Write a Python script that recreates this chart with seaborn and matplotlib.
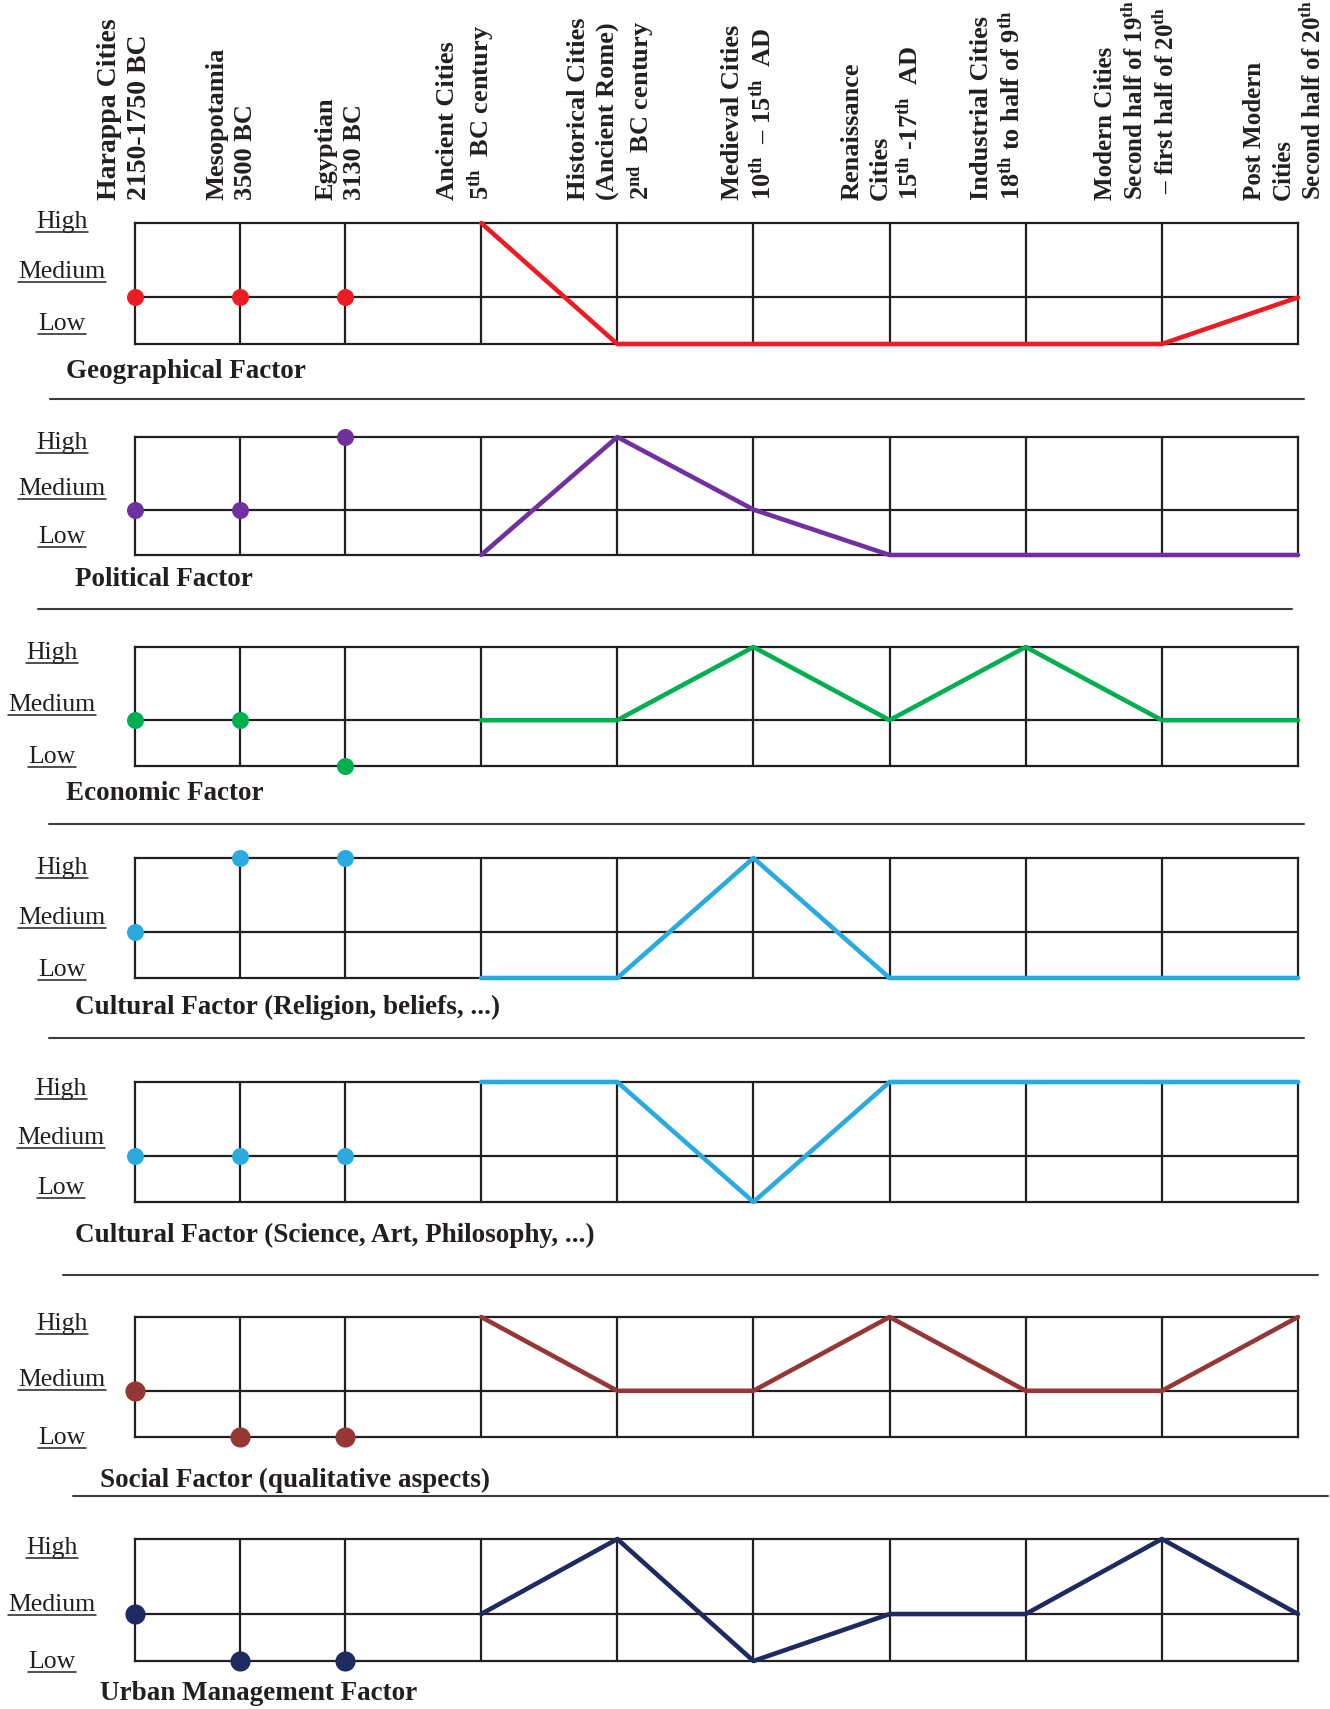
import numpy as np
import pandas as pd
import matplotlib
matplotlib.use("Agg")
import matplotlib.pyplot as plt
import seaborn as sns
from matplotlib.lines import Line2D

# ---- data ----
periods = [
    "Harappa Cities\n2150-1750 BC",
    "Mesopotamia\n3500 BC",
    "Egyptian\n3130 BC",
    "Ancient Cities\n5$^{\\mathrm{th}}$  BC century",
    "Historical Cities\n(Ancient Rome)\n2$^{\\mathrm{nd}}$  BC century",
    "Medieval Cities\n10$^{\\mathrm{th}}$  \u2013 15$^{\\mathrm{th}}$  AD",
    "Renaissance\nCities\n15$^{\\mathrm{th}}$ -17$^{\\mathrm{th}}$  AD",
    "Industrial Cities\n18$^{\\mathrm{th}}$ to half of 9$^{\\mathrm{th}}$",
    "Modern Cities\nSecond half of 19$^{\\mathrm{th}}$\n \u2013 first half of 20$^{\\mathrm{th}}$",
    "Post Modern\nCities\nSecond half of 20$^{\\mathrm{th}}$",
]
levels = ["Low", "Medium", "High"]

factor_names = [
    "Geographical Factor",
    "Political Factor",
    "Economic Factor",
    "Cultural Factor (Religion, beliefs, ...)",
    "Cultural Factor (Science, Art, Philosophy, ...)",
    "Social Factor (qualitative aspects)",
    "Urban Management Factor",
]

geographical = ["Medium", "Medium", "Medium", "High", "Low", "Low", "Low", "Low", "Low", "Medium"]
political = ["Medium", "Medium", "High", "Low", "High", "Medium", "Low", "Low", "Low", "Low"]
economic = ["Medium", "Medium", "Low", "Medium", "Medium", "High", "Medium", "High", "Medium", "Medium"]
cultural_religion = ["Medium", "High", "High", "Low", "Low", "High", "Low", "Low", "Low", "Low"]
cultural_science = ["Medium", "Medium", "Medium", "High", "High", "Low", "High", "High", "High", "High"]
social = ["Medium", "Low", "Low", "High", "Medium", "Medium", "High", "Medium", "Medium", "High"]
urban = ["Medium", "Low", "Low", "Medium", "High", "Low", "Medium", "Medium", "High", "Medium"]

factor_values = [geographical, political, economic, cultural_religion,
                 cultural_science, social, urban]
factor_colors = ["#ED1C24", "#7030A0", "#00B050", "#29ABE2", "#29ABE2", "#953735", "#1F2A60"]

# ---- layout (pixels of the 1330x1709 canvas) ----
W, H = 1330, 1709
BOX_LEFT, BOX_RIGHT = 135, 1298
panel_top = [223, 437, 647, 858, 1082, 1317, 1539]
panel_bottom = [344, 555, 766, 978, 1202, 1437, 1661]
label_x = [62, 62, 52, 62, 61, 62, 52]
label_base = [(228, 278, 330), (449, 495, 543), (659, 711, 763), (874, 924, 976),
              (1095, 1144, 1194), (1330, 1386, 1444), (1554, 1611, 1668)]
title_pos = [(66, 372), (75, 580), (66, 793), (75, 1007), (75, 1235), (100, 1480), (100, 1693)]
separators = [(399, 50, 1304), (609, 38, 1292), (824, 49, 1304), (1038, 49, 1304),
              (1275, 63, 1318), (1496, 73, 1328)]
header_right = [152, 257, 366, 496, 656, 776, 923, 1025, 1178, 1325]
header_size = [20, 19, 19, 19, 19, 19, 19, 19, 18, 18]
dot_size = [150, 150, 150, 150, 150, 210, 210]

TXT = "#231F20"
GRID = "#231F20"

sns.set_style("white")
plt.rcParams["font.family"] = ["Liberation Serif", "DejaVu Serif"]
plt.rcParams["mathtext.fontset"] = "custom"
plt.rcParams["mathtext.rm"] = "Liberation Serif:bold"
plt.rcParams["mathtext.it"] = "Liberation Serif:bold"
plt.rcParams["mathtext.bf"] = "Liberation Serif:bold"


def fx(px):
    return px / W


def fy(py):
    return 1 - py / H


# period axis: narrower spacing for the three early civilisations
def x_fwd(x):
    x = np.asarray(x, dtype=float)
    return np.where(x <= 2, 105 * x, 210 + 136.1 * (x - 2))


def x_inv(p):
    p = np.asarray(p, dtype=float)
    return np.where(p <= 210, p / 105, 2 + (p - 210) / 136.1)


MID = 0.385


def y_fwd(y):
    y = np.asarray(y, dtype=float)
    return np.where(y <= 1, MID * y, MID + (1 - MID) * (y - 1))


def y_inv(p):
    p = np.asarray(p, dtype=float)
    return np.where(p <= MID, p / MID, 1 + (p - MID) / (1 - MID))


fig = plt.figure(figsize=(W / 100, H / 100), dpi=100)

# column headers
for i, lab in enumerate(periods):
    fig.text(fx(header_right[i]), fy(200), lab, rotation=90, ha="right", va="bottom",
             multialignment="left", fontsize=header_size[i], fontweight="bold", color=TXT,
             linespacing=1.28)

level_texts = []
for k, vals in enumerate(factor_values):
    df = pd.DataFrame({"period": np.arange(len(periods)),
                       "level": [levels.index(v) for v in vals]})
    dots = df.iloc[:3]
    trend = df.iloc[3:]

    ax = fig.add_axes([fx(BOX_LEFT), fy(panel_bottom[k]),
                       fx(BOX_RIGHT - BOX_LEFT), (panel_bottom[k] - panel_top[k]) / H])
    ax.set_xscale("function", functions=(x_fwd, x_inv))
    ax.set_yscale("function", functions=(y_fwd, y_inv))

    for i in range(1, len(periods) - 1):
        ax.axvline(i, color=GRID, lw=1.6, zorder=1)
    ax.axhline(1, color=GRID, lw=1.6, zorder=1)

    sns.lineplot(data=trend, x="period", y="level", ax=ax, color=factor_colors[k],
                 linewidth=3.3, solid_capstyle="round", zorder=4)
    sns.scatterplot(data=dots, x="period", y="level", ax=ax, color=factor_colors[k],
                    s=dot_size[k], linewidth=0, zorder=5)

    ax.set_xlim(0, len(periods) - 1)
    ax.set_ylim(0, 2)
    ax.set_xticks([])
    ax.set_yticks([])
    ax.set_xlabel("")
    ax.set_ylabel("")
    for sp in ax.spines.values():
        sp.set_visible(True)
        sp.set_color(GRID)
        sp.set_linewidth(1.6)
    for art in ax.lines + ax.collections:
        art.set_clip_on(False)

    # level labels (High / Medium / Low), underlined
    for lev, base in zip(["High", "Medium", "Low"], label_base[k]):
        t = fig.text(fx(label_x[k]), fy(base), lev, ha="center", va="baseline",
                     fontsize=18.5, color=TXT)
        level_texts.append((t, base))

    fig.text(fx(title_pos[k][0]), fy(title_pos[k][1]), factor_names[k], ha="left",
             va="center", fontsize=19.5, fontweight="bold", color=TXT)

for y, x0, x1 in separators:
    fig.add_artist(Line2D([fx(x0), fx(x1)], [fy(y), fy(y)], color="#3C3C3C", lw=1.5))

fig.canvas.draw()
renderer = fig.canvas.get_renderer()
for t, base in level_texts:
    bb = t.get_window_extent(renderer)
    fig.add_artist(Line2D([bb.x0 / W, bb.x1 / W], [fy(base + 3.5), fy(base + 3.5)],
                          color=TXT, lw=1.1))

fig.savefig("out.png", dpi=100, facecolor="white")
